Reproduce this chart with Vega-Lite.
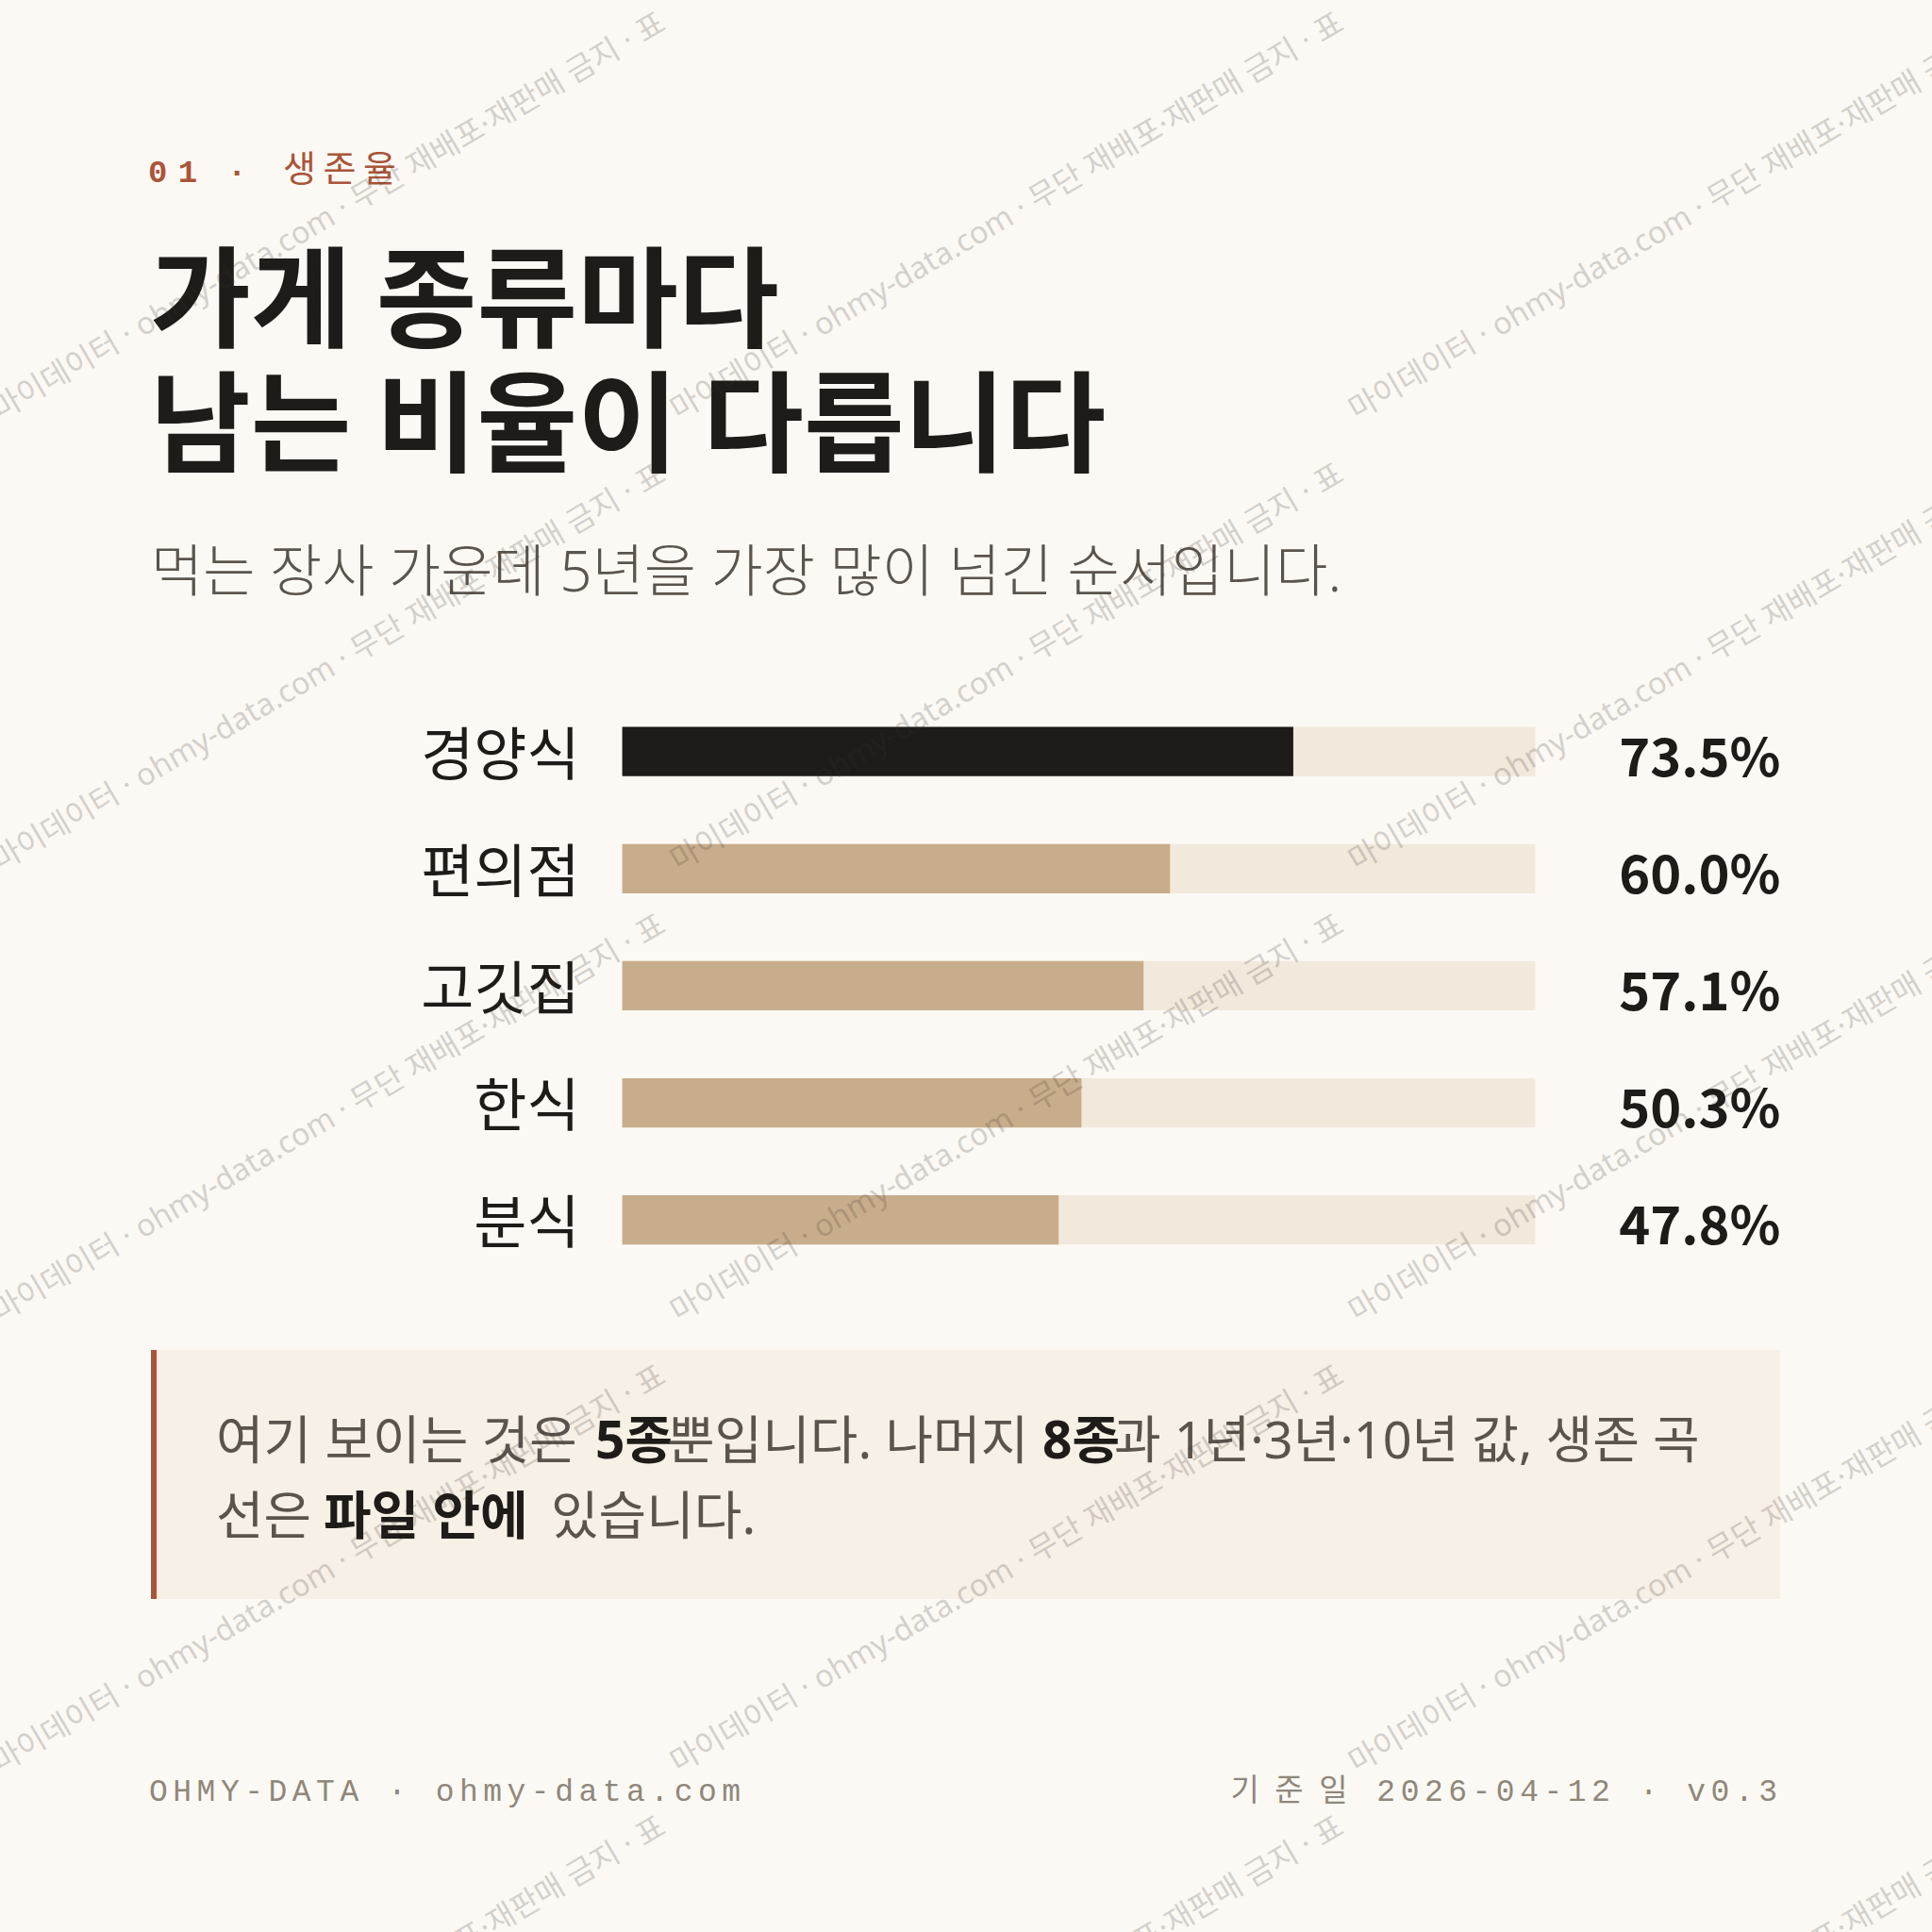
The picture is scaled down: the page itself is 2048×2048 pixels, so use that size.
{
  "$schema": "https://vega.github.io/schema/vega-lite/v6.json",
  "width": 2048,
  "height": 2048,
  "autosize": {"type": "none"},
  "padding": 0,
  "background": "#fcf9f4",
  "config": {"view": {"stroke": null}, "font": "Noto Sans CJK KR"},
  "datasets": {
    "rates": [
      {"cat": "경양식", "rate": 0.735},
      {"cat": "편의점", "rate": 0.600},
      {"cat": "고깃집", "rate": 0.571},
      {"cat": "한식", "rate": 0.503},
      {"cat": "분식", "rate": 0.478}
    ],
    "wm": [
      {"col": 0, "row": 0}, {"col": 1, "row": 0}, {"col": 2, "row": 0},
      {"col": 0, "row": 1}, {"col": 1, "row": 1}, {"col": 2, "row": 1},
      {"col": 0, "row": 2}, {"col": 1, "row": 2}, {"col": 2, "row": 2},
      {"col": 0, "row": 3}, {"col": 1, "row": 3}, {"col": 2, "row": 3},
      {"col": 0, "row": 4}, {"col": 1, "row": 4}, {"col": 2, "row": 4}
    ]
  },
  "layer": [
    {
      "data": {"values": [{}]},
      "mark": {"type": "rect", "x": 160, "x2": 1887, "y": 1431, "y2": 1695, "color": "#f7f0e6"},
      "encoding": {}
    },
    {
      "data": {"values": [{}]},
      "mark": {"type": "rect", "x": 160, "x2": 166, "y": 1431, "y2": 1695, "color": "#a9553a"},
      "encoding": {}
    },
    {
      "data": {"values": [{}]},
      "mark": {"type": "rule", "x": 160, "x2": 1887, "y": 1836, "y2": 1836, "stroke": "#e3dbcf", "strokeWidth": 2},
      "encoding": {}
    },
    {
      "data": {"values": [{}]},
      "mark": {"type": "text", "text": "0\u20041 \u2004·", "x": 157, "y": 193, "align": "left", "baseline": "alphabetic",
               "font": "Liberation Mono, DejaVu Sans", "fontSize": 34, "fontWeight": "bold", "color": "#a9553a"},
      "encoding": {}
    },
    {
      "data": {"values": [{}]},
      "mark": {"type": "text", "text": "생\u2009존\u2009율", "x": 300, "y": 192, "align": "left", "baseline": "alphabetic",
               "fontSize": 38, "color": "#a9553a"},
      "encoding": {}
    },
    {
      "data": {"values": [{}]},
      "mark": {"type": "text", "text": "가게 종류마다", "x": 159, "y": 359, "align": "left", "baseline": "alphabetic",
               "fontSize": 116, "fontWeight": "bold", "color": "#1f1b18"},
      "encoding": {}
    },
    {
      "data": {"values": [{}]},
      "mark": {"type": "text", "text": "남는 비율이 다릅니다", "x": 159, "y": 491, "align": "left", "baseline": "alphabetic",
               "fontSize": 116, "fontWeight": "bold", "color": "#1f1b18"},
      "encoding": {}
    },
    {
      "data": {"values": [{}]},
      "mark": {"type": "text", "text": "먹는 장사 가운데 5년을 가장 많이 넘긴 순서입니다.", "x": 160, "y": 627, "align": "left", "baseline": "alphabetic",
               "font": "Noto Sans, Noto Sans CJK KR", "fontSize": 60, "fontWeight": 300, "color": "#5b544d"},
      "encoding": {}
    },
    {
      "data": {"values": [{}]},
      "mark": {"type": "text", "text": "여기 보이는 것은", "x": 229, "y": 1546, "align": "left", "baseline": "alphabetic",
               "font": "Noto Sans, Noto Sans CJK KR", "fontSize": 55, "color": "#5b544d"},
      "encoding": {}
    },
    {
      "data": {"values": [{}]},
      "mark": {"type": "text", "text": "5종", "x": 631, "y": 1546, "align": "left", "baseline": "alphabetic",
               "font": "Noto Sans, Noto Sans CJK KR", "fontSize": 55, "fontWeight": "bold", "color": "#1f1b18"},
      "encoding": {}
    },
    {
      "data": {"values": [{}]},
      "mark": {"type": "text", "text": "뿐입니다. 나머지", "x": 707, "y": 1546, "align": "left", "baseline": "alphabetic",
               "font": "Noto Sans, Noto Sans CJK KR", "fontSize": 55, "color": "#5b544d"},
      "encoding": {}
    },
    {
      "data": {"values": [{}]},
      "mark": {"type": "text", "text": "8종", "x": 1105, "y": 1546, "align": "left", "baseline": "alphabetic",
               "font": "Noto Sans, Noto Sans CJK KR", "fontSize": 55, "fontWeight": "bold", "color": "#1f1b18"},
      "encoding": {}
    },
    {
      "data": {"values": [{}]},
      "mark": {"type": "text", "text": "과 1년·3년·10년 값, 생존 곡", "x": 1181, "y": 1546, "align": "left", "baseline": "alphabetic",
               "font": "Noto Sans, Noto Sans CJK KR", "fontSize": 54, "color": "#5b544d"},
      "encoding": {}
    },
    {
      "data": {"values": [{}]},
      "mark": {"type": "text", "text": "선은", "x": 229, "y": 1626, "align": "left", "baseline": "alphabetic",
               "font": "Noto Sans, Noto Sans CJK KR", "fontSize": 55, "color": "#5b544d"},
      "encoding": {}
    },
    {
      "data": {"values": [{}]},
      "mark": {"type": "text", "text": "파일 안에", "x": 343, "y": 1626, "align": "left", "baseline": "alphabetic",
               "font": "Noto Sans, Noto Sans CJK KR", "fontSize": 55, "fontWeight": "bold", "color": "#1f1b18"},
      "encoding": {}
    },
    {
      "data": {"values": [{}]},
      "mark": {"type": "text", "text": "있습니다.", "x": 584, "y": 1626, "align": "left", "baseline": "alphabetic",
               "font": "Noto Sans, Noto Sans CJK KR", "fontSize": 55, "color": "#5b544d"},
      "encoding": {}
    },
    {
      "data": {"values": [{}]},
      "mark": {"type": "text", "text": "O\u2006H\u2006M\u2006Y\u2006-\u2006D\u2006A\u2006T\u2006A\u2006 \u2006·\u2006 \u2006o\u2006h\u2006m\u2006y\u2006-\u2006d\u2006a\u2006t\u2006a\u2006.\u2006c\u2006o\u2006m",
               "x": 158, "y": 1909, "align": "left", "baseline": "alphabetic",
               "font": "Liberation Mono, DejaVu Sans, Noto Sans CJK KR", "fontSize": 33, "color": "#8f877c"},
      "encoding": {}
    },
    {
      "data": {"values": [{}]},
      "mark": {"type": "text", "text": "기\u2006\u2006\u2006준\u2006\u2006\u2006일\u2006 \u20062\u20060\u20062\u20066\u2006-\u20060\u20064\u2006-\u20061\u20062\u2006 \u2006·\u2006 \u2006v\u20060\u2006.\u20063",
               "x": 1884, "y": 1909, "align": "right", "baseline": "alphabetic",
               "font": "Liberation Mono, DejaVu Sans, Noto Sans CJK KR", "fontSize": 33, "color": "#8f877c"},
      "encoding": {}
    },
    {
      "data": {"name": "rates"},
      "mark": {"type": "bar", "color": "#f1e9dc"},
      "encoding": {
        "x": {"datum": 0, "type": "quantitative", "scale": {"domain": [0, 1], "range": [659.6, 1627.4], "zero": false, "nice": false}, "axis": null},
        "x2": {"datum": 1},
        "y": {"field": "cat", "type": "nominal", "sort": null, "axis": null,
              "scale": {"range": [734.6, 1355.2], "paddingInner": 0.579, "paddingOuter": 0.2895}}
      }
    },
    {
      "data": {"name": "rates"},
      "mark": {"type": "bar"},
      "encoding": {
        "x": {"field": "rate", "type": "quantitative", "scale": {"domain": [0, 1], "range": [659.6, 1627.4], "nice": false}, "axis": null},
        "y": {"field": "cat", "type": "nominal", "sort": null, "axis": null,
              "scale": {"range": [734.6, 1355.2], "paddingInner": 0.579, "paddingOuter": 0.2895}},
        "color": {"condition": {"test": "datum.cat === '경양식'", "value": "#1f1b18"}, "value": "#c8ad8c"}
      }
    },
    {
      "data": {"name": "rates"},
      "mark": {"type": "text", "align": "right", "baseline": "alphabetic", "dx": -45, "dy": 25, "fontSize": 61, "color": "#1f1b18"},
      "encoding": {
        "x": {"datum": 0, "type": "quantitative", "scale": {"domain": [0, 1], "range": [659.6, 1627.4], "nice": false}, "axis": null},
        "y": {"field": "cat", "type": "nominal", "sort": null, "axis": null,
              "scale": {"range": [734.6, 1355.2], "paddingInner": 0.579, "paddingOuter": 0.2895}},
        "text": {"field": "cat"}
      }
    },
    {
      "data": {"name": "rates"},
      "mark": {"type": "text", "align": "right", "baseline": "alphabetic", "dx": 260, "dy": 26, "fontSize": 56, "fontWeight": "bold", "color": "#1f1b18"},
      "encoding": {
        "x": {"datum": 1, "type": "quantitative", "scale": {"domain": [0, 1], "range": [659.6, 1627.4], "nice": false}, "axis": null},
        "y": {"field": "cat", "type": "nominal", "sort": null, "axis": null,
              "scale": {"range": [734.6, 1355.2], "paddingInner": 0.579, "paddingOuter": 0.2895}},
        "text": {"field": "rate", "type": "quantitative", "format": ".1%"}
      }
    },
    {
      "data": {"name": "wm"},
      "mark": {"type": "text", "text": "마이데이터 · ohmy-data.com · 무단 재배포·재판매 금지 · 표", "align": "left", "baseline": "alphabetic",
               "angle": -30.4, "font": "Noto Sans, Noto Sans CJK KR", "fontSize": 32.5, "color": "#3a322b", "opacity": 0.2},
      "encoding": {
        "x": {"field": "col", "type": "quantitative", "scale": {"domain": [0, 1], "range": [0, 719], "zero": false, "nice": false}, "axis": null},
        "y": {"field": "row", "type": "quantitative", "scale": {"domain": [0, 1], "range": [446, 924], "zero": false, "nice": false}, "axis": null}
      }
    }
  ],
  "resolve": {"scale": {"x": "independent", "y": "independent"}}
}
